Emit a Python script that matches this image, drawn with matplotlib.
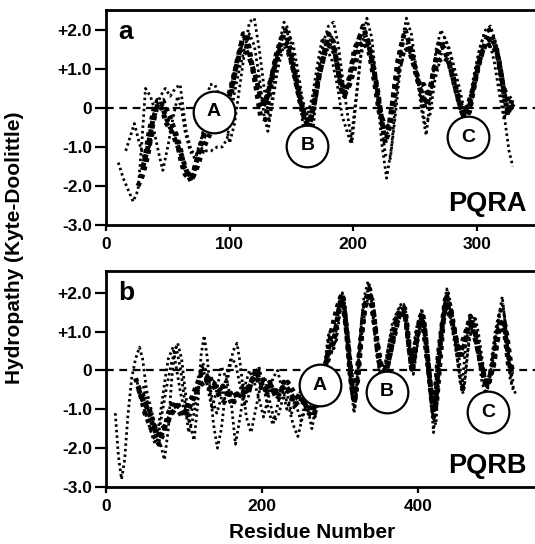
import matplotlib
matplotlib.use('Agg')
import matplotlib.pyplot as plt

plt.rcParams['font.family'] = ['Liberation Sans', 'DejaVu Sans']
plt.rcParams['font.weight'] = 'bold'

# ---------------- panel a (PQRA) hydropathy traces ----------------
a1_x = [28, 31, 35, 39, 42, 46, 50, 53, 57, 61, 64, 67, 71, 75, 79, 82, 86, 90, 95, 99, 103, 106, 109, 112, 115, 118,
        122, 126, 130, 134, 138, 142, 146, 150, 154, 158, 162, 166, 170, 174, 178, 182, 186, 190, 193, 197, 201, 205,
        209, 213, 217, 221, 225, 228, 232, 236, 240, 244, 248, 252, 256, 260, 264, 268, 272, 276, 280, 284, 288, 292,
        296, 300, 304, 308, 312, 316, 320, 323, 326, 329]
a1_y = [-1.8, -1.4, -0.6, 0.0, 0.2, 0.2, -0.1, -0.3, -0.8, -1.4, -1.7, -1.8, -1.6, -1.2, -0.7, -0.4, -0.2, -0.2, 0.0,
        0.2, 0.7, 1.2, 1.6, 1.8, 1.6, 1.1, 0.5, 0.0, 0.2, 0.8, 1.4, 1.8, 1.7, 1.2, 0.6, 0.0, -0.45, -0.2, 0.5, 1.1, 1.6,
        1.8, 1.3, 0.5, 0.3, 0.8, 1.5, 1.8, 1.9, 1.6, 0.9, 0.1, -0.6, -0.7, 0.2, 1.2, 1.7, 1.7, 1.3, 0.8, 0.3, 0.1, 0.8,
        1.4, 1.6, 1.3, 0.9, 0.4, 0.0, -0.2, 0.3, 0.9, 1.4, 1.7, 1.8, 1.5, 0.8, 0.1, -0.1, 0.1]

a2_x = [30, 34, 38, 42, 45, 49, 53, 57, 61, 65, 69, 73, 77, 81, 85, 90, 95, 100, 104, 108, 111, 114, 117, 121, 125,
        129, 133, 137, 141, 145, 149, 153, 157, 161, 164, 168, 172, 176, 180, 184, 188, 192, 196, 200, 204, 208, 212,
        216, 220, 223, 226, 230, 234, 238, 242, 246, 250, 254, 258, 262, 266, 270, 274, 278, 282, 286, 290, 294, 298,
        302, 306, 310, 314, 318, 322, 325, 329]
a2_y = [-1.5, -1.0, -0.3, 0.1, 0.0, -0.4, -0.6, -0.9, -1.2, -1.6, -1.9, -1.4, -0.9, -0.6, -0.4, -0.1, 0.1, 0.4, 0.9,
        1.4, 1.9, 1.9, 1.3, 0.6, -0.2, -0.3, 0.5, 1.2, 1.6, 2.0, 1.5, 0.9, 0.3, -0.3, -0.5, 0.0, 0.8, 1.3, 1.9, 1.7, 0.9,
        0.3, 0.5, 1.2, 1.7, 2.1, 1.7, 1.1, 0.4, -0.3, -0.9, -0.4, 0.6, 1.5, 2.0, 1.6, 1.0, 0.5, 0.0, 0.4, 1.1, 1.7, 1.5,
        1.1, 0.6, 0.1, -0.3, -0.1, 0.6, 1.2, 1.6, 2.0, 1.7, 1.2, 0.4, -0.2, 0.3]

a3_x = [10, 14, 18, 22, 26, 29, 32, 36, 40, 44, 48, 52, 56, 60, 62, 65, 69, 73, 78, 82, 84, 88, 92, 96, 100, 104, 108,
        112, 116, 120, 124, 128, 132, 136, 140, 144, 148, 152, 156, 160, 164, 168, 172, 176, 180, 184, 188, 192, 196,
        199, 203, 207, 211, 215, 219, 223, 227, 231, 235, 239, 243, 247, 251, 255, 259, 263, 267, 271, 275, 279, 283,
        287, 291, 295, 299, 303, 307, 311, 315, 319, 323, 326, 329]
a3_y = [-1.4, -1.8, -2.1, -2.4, -2.1, -0.9, 0.5, 0.3, -0.1, 0.3, 0.5, 0.3, 0.5, 0.6, 0.1, -0.6, -1.1, -1.2, -0.7, 0.2,
        0.6, 0.6, 0.3, -0.2, -0.9, -0.4, 0.5, 1.4, 2.2, 2.3, 1.5, 0.5, -0.3, 0.6, 1.6, 2.2, 2.0, 1.2, 0.4, -0.6, -1.5,
        -0.4, 1.0, 1.7, 2.1, 2.2, 1.6, 0.6, -0.3, -0.9, 0.4, 1.6, 2.3, 1.8, 0.6, -0.9, -1.8, -1.0, 0.4, 1.6, 2.3, 1.9,
        1.0, 0.0, -0.7, 0.4, 1.5, 2.0, 1.7, 1.3, 0.6, -0.1, -0.6, 0.0, 1.0, 1.6, 2.0, 2.1, 1.7, 0.6, -0.4, -1.1, -1.5]

a4_x = [16, 20, 23, 27, 31, 35, 39, 43, 46, 50, 54, 58, 61, 64, 68, 72, 76, 80, 85, 90, 94, 98, 101, 104, 108, 112,
        116, 120, 124, 128, 131, 135, 139, 143, 147, 151, 155, 159, 163, 167, 171, 175, 179, 183, 187, 191, 195, 198,
        202, 206, 210, 214, 218, 222, 226, 230, 234, 238, 242, 246, 250, 254, 258, 262, 266, 270, 274, 278, 282, 286,
        290, 294, 298, 302, 306, 310, 314, 318, 322, 326, 330]
a4_y = [-1.1, -0.7, -0.4, -0.9, -1.3, -1.0, -0.6, -1.2, -1.6, -1.0, -0.3, 0.3, 0.0, -0.6, -1.1, -1.3, -1.0, -1.1,
        -1.1, -1.0, -1.0, -0.8, -0.2, 0.4, 1.0, 1.5, 1.9, 1.6, 0.8, -0.2, -0.6, 0.2, 1.0, 1.5, 1.9, 1.7, 1.0, 0.2, -0.2,
        0.3, 1.1, 1.8, 1.5, 1.2, 0.6, -0.2, -0.6, -0.9, 0.2, 1.3, 1.8, 1.4, 0.6, -0.2, -1.2, -1.3, -0.2, 1.0, 1.5, 1.4,
        1.1, 0.4, -0.4, -0.2, 0.7, 1.2, 1.8, 1.5, 1.0, 0.5, -0.1, 0.2, 0.9, 1.5, 1.9, 1.7, 1.2, 0.4, -0.3, 0.3, 0.2]

a5_x = [26, 30, 34, 38, 41, 45, 48, 52, 56, 60, 63, 67, 70, 74, 78, 82, 87, 92, 97, 101, 105, 109, 113, 117, 121, 125,
        129, 133, 137, 141, 145, 149, 153, 157, 161, 165, 169, 173, 177, 181, 185, 189, 193, 197, 201, 205, 209, 213,
        217, 221, 225, 229, 233, 237, 241, 245, 249, 253, 257, 261, 265, 269, 273, 277, 281, 285, 289, 293, 297, 301,
        305, 309, 313, 317, 321, 325, 330]
a5_y = [-2.0, -1.7, -1.2, -0.4, 0.0, 0.1, -0.2, -0.5, -0.6, -1.0, -1.5, -1.7, -1.8, -1.5, -1.1, -0.8, -0.5, -0.3,
        -0.1, 0.3, 1.0, 1.5, 1.5, 1.2, 0.8, 0.3, 0.1, 0.7, 1.1, 1.5, 1.6, 1.3, 0.8, 0.2, -0.2, -0.4, 0.2, 0.9, 1.4, 1.6,
        1.4, 0.8, 0.4, 0.6, 1.0, 1.6, 1.7, 1.4, 0.7, -0.1, -0.4, -0.5, 0.4, 1.0, 1.5, 1.5, 1.1, 0.6, 0.6, 0.3, 0.9, 1.2,
        1.3, 1.2, 0.7, 0.2, -0.2, 0.1, 0.5, 1.1, 1.5, 1.6, 1.6, 1.3, 0.6, 0.2, 0.0]

# ---------------- panel b (PQRB) hydropathy traces ----------------
b1_x = [41, 54, 65, 69, 78, 91, 104, 116, 125, 137, 150, 163, 176, 184, 195, 207, 221, 233, 246, 259, 265, 272, 281,
        293, 300, 304, 310, 317, 323, 332, 338, 347, 354, 359, 364, 377, 383, 392, 398, 405, 411, 420, 426, 435, 441,
        452, 458, 467, 475, 488, 497, 505, 511, 516, 520]
b1_y = [-0.4, -0.9, -1.6, -1.75, -1.33, -0.9, -1.07, -0.56, -0.22, -0.3, -0.56, -0.65, -0.56, -0.4, -0.05, -0.38,
        -0.56, -0.3, -0.73, -0.9, -1.07, -0.6, 0.03, 0.8, 1.75, 1.9, 0.8, -0.63, 0.13, 1.68, 2.0, 0.8, 0.0, -0.05, 0.4,
        1.5, 1.5, 0.03, 0.8, 1.4, 0.4, -1.07, 0.4, 1.83, 1.5, 0.47, 0.8, 1.32, 0.67, -0.38, 0.13, 1.23, 1.0, 0.13, -0.05]

b2_x = [12, 16, 20, 24, 28, 33, 38, 43, 47, 52, 58, 64, 70, 75, 80, 84, 88, 92, 97, 102, 108, 113, 118, 122, 126, 130,
        134, 138, 143, 148, 153, 158, 163, 168, 172, 176, 180, 186, 192, 198, 204, 210, 216, 222, 228, 234, 240, 246,
        252, 258, 264, 270, 276, 282, 287, 292, 296, 300, 305, 310, 315, 319, 323, 328, 333, 338, 343, 348, 353, 358,
        364, 370, 376, 382, 387, 392, 397, 403, 408, 414, 419, 423, 428, 433, 437, 442, 447, 452, 456, 461, 466, 471,
        477, 482, 487, 492, 498, 503, 508, 513, 518, 522]
b2_y = [-1.1, -2.2, -2.8, -2.3, -1.2, -0.2, 0.3, 0.6, 0.3, -0.5, -1.0, -1.5, -1.9, -2.3, -1.5, -0.3, 0.5, 0.7, 0.3,
        -0.6, -1.4, -1.8, -0.8, 0.4, 0.9, 0.3, -0.6, -1.4, -2.0, -1.5, -0.6, 0.0, 0.5, 0.7, 0.2, -0.5, -1.2, -1.6, -1.0,
        -0.4, -0.2, -0.8, -1.3, -1.1, -0.6, -0.9, -1.4, -1.7, -1.2, -0.9, -1.5, -0.8, -0.5, 0.3, 1.0, 0.5, 1.2, 1.8, 1.7,
        0.6, -0.6, -1.0, 0.0, 1.4, 1.9, 2.2, 1.4, 0.3, -0.1, 0.2, 0.8, 1.3, 1.6, 1.7, 0.8, 0.2, 1.0, 1.5, 1.0, -0.2,
        -1.2, -1.4, 0.3, 1.6, 2.1, 1.3, 0.7, 0.1, -0.5, 0.6, 1.3, 1.1, 0.4, -0.3, -0.6, -0.2, 0.7, 1.3, 1.9, 1.0, -0.2,
        -0.5]

b3_x = [40, 46, 52, 58, 63, 67, 72, 76, 80, 86, 90, 95, 100, 106, 112, 118, 124, 130, 136, 142, 148, 154, 160, 166,
        172, 178, 184, 190, 196, 202, 208, 214, 220, 226, 232, 238, 244, 250, 256, 262, 268, 274, 280, 286, 292, 298,
        303, 308, 313, 318, 322, 327, 332, 337, 342, 347, 352, 357, 362, 368, 374, 380, 385, 390, 395, 400, 405, 410,
        415, 420, 425, 430, 435, 440, 445, 450, 455, 459, 463, 468, 473, 478, 484, 489, 494, 500, 506, 511, 516, 520,
        525]
b3_y = [-0.3, -0.8, -1.2, -1.6, -1.9, -1.5, -0.8, -0.2, 0.3, 0.6, 0.1, -0.5, -1.0, -1.3, -0.9, -0.2, 0.2, -0.1, -0.7,
        -1.1, -0.7, -0.2, 0.3, 0.2, -0.4, -0.9, -0.6, -0.1, 0.1, -0.4, -1.0, -1.4, -0.9, -0.4, -0.6, -1.1, -0.8, -0.5,
        -0.2, -0.6, -1.2, -0.6, 0.0, 0.6, 0.9, 1.6, 2.0, 1.2, -0.2, -1.1, -0.5, 0.8, 1.5, 2.0, 1.9, 1.0, 0.2, -0.1, 0.4,
        1.0, 1.4, 1.6, 1.3, 0.4, 0.1, 0.9, 1.6, 0.8, -0.3, -1.6, -0.2, 1.0, 1.9, 1.7, 1.2, 0.8, -0.1, -0.5, 0.3, 1.4,
        1.2, 0.6, -0.1, -0.5, 0.0, 0.8, 1.6, 1.4, 0.4, -0.3, -0.6]

b4_x = [48, 54, 60, 66, 72, 78, 84, 90, 96, 101, 106, 112, 118, 124, 130, 136, 142, 148, 154, 160, 166, 172, 178, 184,
        190, 196, 202, 208, 214, 220, 226, 232, 238, 244, 250, 256, 262, 268, 274, 280, 285, 290, 295, 300, 305, 310,
        315, 320, 325, 330, 336, 341, 346, 351, 356, 361, 367, 373, 378, 384, 389, 394, 399, 404, 409, 414, 419, 424,
        429, 434, 439, 444, 449, 454, 458, 463, 468, 473, 478, 483, 488, 493, 499, 504, 509, 514, 518, 522]
b4_y = [-0.4, -1.0, -1.3, -1.8, -1.1, -0.4, 0.2, 0.6, 0.0, -0.8, -1.6, -1.2, -0.5, 0.1, -0.4, -1.0, -0.5, 0.1, -0.2,
        -0.7, -1.9, -1.2, -0.4, 0.0, -0.3, -0.7, -1.2, -0.7, -0.2, 0.0, -0.5, -1.0, -0.7, -0.9, -1.3, -0.8, -0.4, -0.9,
        -0.4, 0.1, 0.9, 1.1, 0.7, 1.5, 1.9, 1.0, -0.3, -0.7, 0.6, 1.8, 2.3, 1.7, 0.6, -0.1, -0.2, 0.5, 1.2, 1.5, 1.7,
        1.4, 0.6, -0.1, 0.6, 1.4, 1.2, 0.1, -1.0, -0.9, 0.6, 1.7, 2.0, 1.5, 0.5, -0.3, -0.6, 0.4, 1.0, 1.4, 0.9, 0.2,
        -0.4, 0.1, 1.0, 1.5, 1.7, 0.8, 0.1, -0.3]

b5_x = [38, 44, 50, 56, 62, 68, 74, 80, 86, 92, 98, 104, 110, 116, 122, 128, 134, 140, 146, 152, 158, 164, 170, 176,
        182, 188, 194, 200, 206, 212, 218, 224, 230, 236, 242, 248, 254, 260, 266, 272, 278, 284, 290, 296, 301, 306,
        311, 315, 319, 323, 328, 333, 338, 343, 348, 353, 358, 363, 368, 373, 378, 383, 388, 392, 396, 401, 406, 411,
        416, 420, 424, 429, 433, 437, 442, 447, 452, 457, 462, 467, 472, 477, 482, 487, 491, 496, 501, 506, 511, 515,
        520]
b5_y = [-0.2, -0.6, -1.1, -1.4, -1.7, -1.9, -1.6, -1.1, -0.8, -1.0, -1.2, -0.9, -0.7, -0.4, -0.1, -0.2, -0.5, -0.4,
        -0.7, -0.8, -0.5, -0.8, -0.7, -0.4, -0.6, -0.2, -0.2, -0.5, -0.6, -0.4, -0.7, -0.5, -0.4, -0.6, -0.9, -0.6,
        -0.8, -1.1, -1.2, -0.8, -0.3, 0.4, 1.1, 1.6, 1.9, 1.5, 0.5, -0.4, -0.8, -0.2, 1.0, 1.8, 2.1, 1.5, 0.5, -0.1,
        -0.1, 0.3, 0.9, 1.3, 1.6, 1.6, 0.8, 0.0, 0.5, 1.2, 1.5, 0.6, -0.4, -1.2, -0.8, 0.4, 1.4, 1.9, 1.6, 1.0, 0.4,
        0.6, 1.0, 1.4, 1.1, 0.5, 0.0, -0.4, -0.3, 0.2, 0.9, 1.3, 1.2, 0.5, -0.1]

b6_x = [42, 48, 54, 60, 66, 72, 78, 84, 90, 96, 102, 108, 114, 120, 126, 132, 138, 144, 150, 156, 162, 168, 174, 180,
        186, 192, 198, 204, 210, 216, 222, 228, 234, 240, 246, 252, 258, 264, 270, 276, 282, 288, 293, 298, 303, 308,
        313, 317, 321, 326, 331, 336, 341, 346, 351, 356, 361, 366, 372, 378, 384, 389, 393, 398, 403, 408, 413, 418,
        422, 426, 431, 436, 441, 446, 451, 455, 460, 465, 470, 475, 480, 485, 490, 495, 500, 505, 510, 514, 518, 521]
b6_y = [-0.5, -0.8, -1.0, -1.4, -1.7, -1.5, -1.4, -1.1, -0.8, -1.0, -1.2, -0.9, -0.6, -0.4, -0.3, -0.1, -0.4, -0.6,
        -0.4, -0.6, -0.9, -0.6, -0.7, -0.5, -0.3, 0.0, -0.3, -0.5, -0.3, -0.6, -0.7, -0.3, -0.5, -0.7, -0.9, -0.7,
        -1.0, -0.9, -0.5, -0.2, 0.2, 0.6, 0.9, 1.5, 1.8, 1.1, -0.1, -0.7, -0.3, 0.6, 1.5, 1.9, 1.8, 1.0, 0.2, 0.0, 0.1,
        0.6, 1.2, 1.4, 1.5, 0.5, 0.1, 0.7, 1.3, 1.2, 0.2, -0.9, -1.0, 0.2, 1.1, 1.7, 1.4, 1.1, 0.6, 0.3, 0.7, 1.2, 1.3,
        0.8, 0.2, -0.2, -0.4, 0.0, 0.6, 1.1, 1.3, 0.9, 0.3, 0.0]

# circled segment labels (letter, residue, hydropathy)
a_labels = [('A', 87, -0.1), ('B', 163, -0.97), ('C', 293, -0.75)]
b_labels = [('A', 274, -0.38), ('B', 360, -0.55), ('C', 490, -1.07)]

y_ticks = [-3, -2, -1, 0, 1, 2]
y_tick_labels = ['-3.0', '-2.0', '-1.0', '0', '+1.0', '+2.0']

fig = plt.figure(figsize=(5.35, 5.44), dpi=100)
ax_a = fig.add_axes([0.198, 0.5864, 0.802, 0.3952])
ax_b = fig.add_axes([0.198, 0.1048, 0.802, 0.397])

dots = (0, (0.8, 0.9))


def draw_panel(ax, core, sparse, labels, xlim, ylim, xticks, tag, name):
    ax.axhline(0, color='black', lw=1.6, ls=(0, (3.5, 2.5)), zorder=1)
    for x, y in core:
        ax.plot(x, y, color='black', lw=3.6, ls=dots, zorder=3)
    for x, y in sparse:
        ax.plot(x, y, color='black', lw=2.0, ls=(0, (0.9, 1.1)), zorder=2)
    for letter, x, y in labels:
        ax.plot([x], [y], 'o', ms=30, mfc='white', mec='black', mew=1.6, zorder=5)
        ax.text(x, y, letter, ha='center', va='center', fontsize=14, fontweight='bold', zorder=6)
    ax.set_xlim(*xlim)
    ax.set_ylim(*ylim)
    ax.set_xticks(xticks)
    ax.set_xticklabels([str(t) for t in xticks])
    ax.set_yticks(y_ticks)
    ax.set_yticklabels(y_tick_labels)
    ax.spines['right'].set_visible(False)
    for s in ['left', 'bottom', 'top']:
        ax.spines[s].set_linewidth(2.0)
    ax.tick_params(axis='y', length=8, width=1.6, labelsize=12.5, pad=2)
    ax.tick_params(axis='x', length=4, width=1.6, labelsize=12.5, pad=5)
    for lab in ax.get_xticklabels() + ax.get_yticklabels():
        lab.set_fontweight('bold')
    ax.text(0.028, 0.865, tag, transform=ax.transAxes, fontsize=19, fontweight='bold', va='baseline')
    ax.text(0.981, 0.065, name, transform=ax.transAxes, fontsize=19.5, fontweight='bold', ha='right', va='baseline')


draw_panel(ax_a, [(a1_x, a1_y), (a2_x, a2_y), (a5_x, a5_y)], [(a3_x, a3_y), (a4_x, a4_y)],
           a_labels, (0, 347), (-3, 2.51), [0, 100, 200, 300], 'a', 'PQRA')
draw_panel(ax_b, [(b1_x, b1_y), (b5_x, b5_y), (b6_x, b6_y)], [(b2_x, b2_y), (b3_x, b3_y), (b4_x, b4_y)],
           b_labels, (0, 550), (-3, 2.56), [0, 200, 400], 'b', 'PQRB')

fig.text(0.028, 0.545, 'Hydropathy (Kyte-Doolittle)', rotation=90, ha='center', va='center',
         fontsize=15, fontweight='bold')
fig.text(0.583, 0.021, 'Residue Number', ha='center', va='center', fontsize=15, fontweight='bold')

fig.savefig('out.png', dpi=100)
